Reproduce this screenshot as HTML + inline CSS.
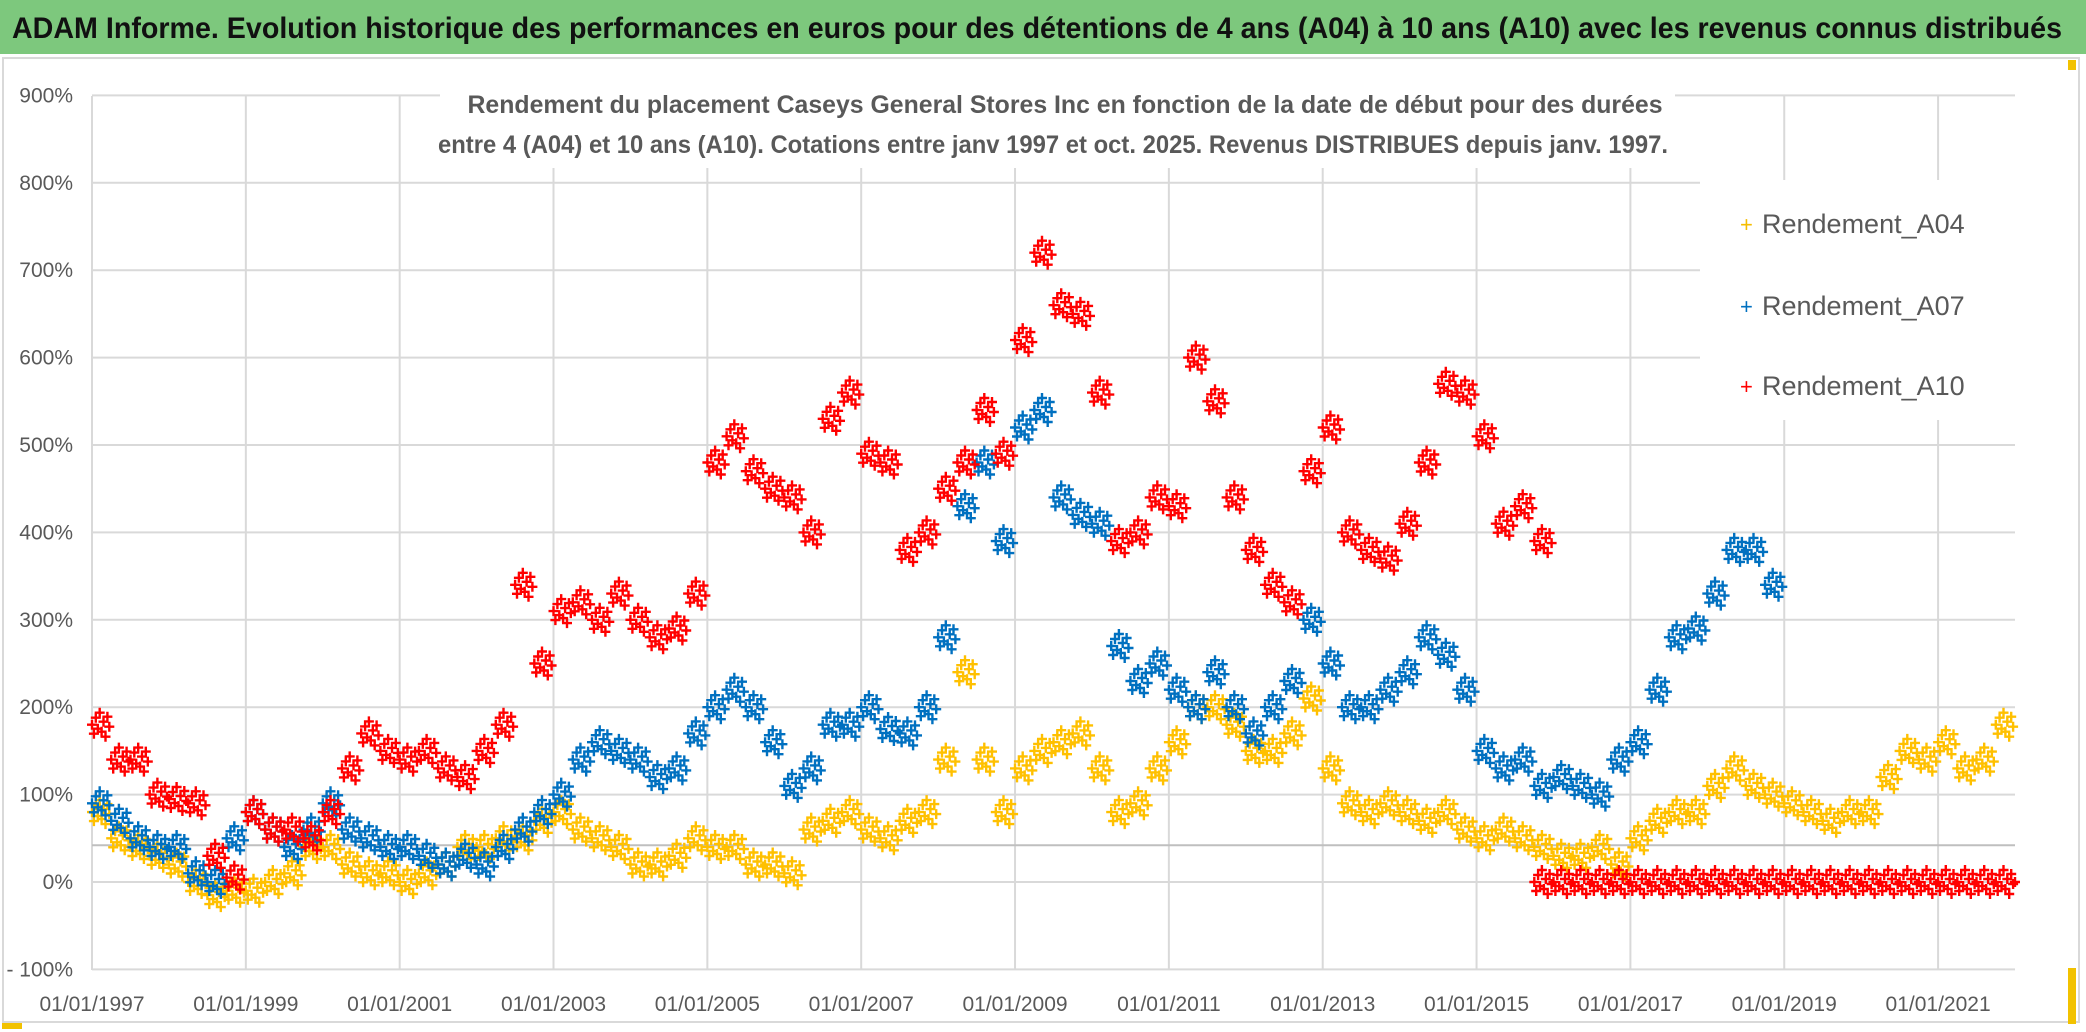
<!DOCTYPE html>
<html><head><meta charset="utf-8">
<style>
html,body{margin:0;padding:0;background:#fff;}
svg{display:block;}
text{font-family:"Liberation Sans Narrow","Liberation Sans",sans-serif;}
</style></head>
<body>
<svg id="chart" width="2086" height="1032" viewBox="0 0 2086 1032" xmlns="http://www.w3.org/2000/svg">
  <rect x="0" y="0" width="2086" height="1032" fill="#ffffff"/>
  <rect x="0" y="0" width="2086" height="54" fill="#7dc87d"/>
  <text x="12" y="38" font-size="30" font-weight="bold" fill="#111" textLength="2050" lengthAdjust="spacingAndGlyphs">ADAM Informe. Evolution historique des performances en euros pour des détentions de 4 ans (A04) à 10 ans (A10) avec les revenus connus distribués</text>
  <rect x="3" y="58" width="2076" height="964" fill="none" stroke="#d9d9d9" stroke-width="2"/>
  <rect x="2068" y="60" width="8" height="10" fill="#f2c200"/>
  <rect x="2068" y="968" width="8" height="56" fill="#f2c200"/>
  <rect x="2" y="1023" width="20" height="6" fill="#f2c200"/>
  <g id="grid"></g>
  <g id="yticks"></g>
  <g id="xticks"></g>
  <g id="series"></g>
  <rect x="1700" y="180" width="340" height="240" fill="#fff"/>
  <g>
    <g><text x="1740" y="232" font-size="22" fill="#f5bd00">+</text><text x="1762" y="233" font-size="27" fill="#595959">Rendement_A04</text></g>
    <g><text x="1740" y="314" font-size="22" fill="#0070c0">+</text><text x="1762" y="315" font-size="27" fill="#595959">Rendement_A07</text></g>
    <g><text x="1740" y="394" font-size="22" fill="#ff0000">+</text><text x="1762" y="395" font-size="27" fill="#595959">Rendement_A10</text></g>
  </g>
  <rect x="440" y="78" width="1235" height="90" fill="#fff"/>
  <text x="1065" y="113" font-size="25" font-weight="bold" fill="#595959" text-anchor="middle" textLength="1195" lengthAdjust="spacingAndGlyphs">Rendement du placement Caseys General Stores Inc en fonction de la date de début pour des durées</text>
  <text x="1053" y="153" font-size="25" font-weight="bold" fill="#595959" text-anchor="middle" textLength="1230" lengthAdjust="spacingAndGlyphs">entre 4 (A04) et 10 ans (A10). Cotations entre janv 1997 et oct. 2025. Revenus DISTRIBUES depuis janv. 1997.</text>
</svg>
<script>
const yTickValues = [-100,0,100,200,300,400,500,600,700,800,900];
const xTickYears = [1997,1999,2001,2003,2005,2007,2009,2011,2013,2015,2017,2019,2021];
const refLineValue = 42;
const a04Start = 1997.0;
const a04Values = [80,50,40,30,20,0,-15,-10,-10,0,10,40,40,20,10,10,0,10,20,40,40,50,50,70,80,60,50,40,20,20,30,50,40,40,20,20,10,60,70,80,60,50,70,80,140,240,140,80,130,150,160,170,130,80,90,130,160,200,200,180,150,150,170,210,130,90,80,90,80,70,80,60,50,60,50,40,30,30,40,20,50,70,80,80,110,130,110,100,90,80,70,80,80,120,150,140,160,130,140,180];
const a07Start = 1997.0;
const a07Values = [90,70,50,40,40,10,0,50,80,60,40,60,90,60,50,40,40,30,20,30,20,40,60,80,100,140,160,150,140,120,130,170,200,220,200,160,110,130,180,180,200,175,170,200,280,430,480,390,520,540,440,420,410,270,230,250,220,200,240,200,170,200,230,300,250,200,200,220,240,280,260,220,150,130,140,110,120,110,100,140,160,220,280,290,330,380,380,340];
const a10Start = 1997.0;
const a10Values = [180,140,140,100,95,90,30,5,80,60,60,50,80,130,170,150,140,150,130,120,150,180,340,250,310,320,300,330,300,280,290,330,480,510,470,450,440,400,530,560,490,480,380,400,450,480,540,490,620,720,660,650,560,390,400,440,430,600,550,440,380,340,320,470,520,400,380,370,410,480,570,560,510,410,430,390];
const a10ZeroStart = 2015.75;
const a10ZeroValues = [0,0,0,0,0,0,0,0,0,0,0,0,0,0,0,0,0,0,0,0,0,0,0,0,0,0];

const NS='http://www.w3.org/2000/svg';
const L=92,R=2015,T=96,B=970;
function xs(yr){return 92+(yr-1997)*76.92;}
function ys(v){return 882-v*0.874;}
const grid=document.getElementById('grid');
for(const v of yTickValues){
  const ln=document.createElementNS(NS,'line');
  ln.setAttribute('x1',L);ln.setAttribute('x2',R);ln.setAttribute('y1',ys(v));ln.setAttribute('y2',ys(v));
  ln.setAttribute('stroke','#d9d9d9');ln.setAttribute('stroke-width','2');
  
  
  grid.appendChild(ln);
  const t=document.createElementNS(NS,'text');
  t.setAttribute('x',73);t.setAttribute('y',ys(v)+7);t.setAttribute('text-anchor','end');
  t.setAttribute('font-size','21');t.setAttribute('fill','#595959');
  t.textContent=(v<0?'- '+(-v):v)+'%';
  
  
  document.getElementById('yticks').appendChild(t);
}
for(const yr of xTickYears){
  const ln=document.createElementNS(NS,'line');
  ln.setAttribute('x1',xs(yr));ln.setAttribute('x2',xs(yr));ln.setAttribute('y1',T);ln.setAttribute('y2',B);
  ln.setAttribute('stroke','#d9d9d9');ln.setAttribute('stroke-width','2');
  
  
  grid.appendChild(ln);
  const t=document.createElementNS(NS,'text');
  t.setAttribute('x',xs(yr));t.setAttribute('y',1011);t.setAttribute('text-anchor','middle');
  t.setAttribute('font-size','21');t.setAttribute('fill','#595959');
  t.textContent='01/01/'+yr;
  
  
  document.getElementById('xticks').appendChild(t);
}
const rl=document.createElementNS(NS,'line');
rl.setAttribute('x1',L);rl.setAttribute('x2',R);rl.setAttribute('y1',ys(refLineValue));rl.setAttribute('y2',ys(refLineValue));
rl.setAttribute('stroke','#bfbfbf');rl.setAttribute('stroke-width','2');


grid.appendChild(rl);

const offX=[0,0.025,0.05,0.075,0.1,0.125,0.15,0.175,0.2,0.225];
const offY=[0,9,-7,4,-12,7,-3,12,-8,2];
function drawSeries(start,vals,color,name){
  let d='';
  vals.forEach((v,i)=>{
    const yr=start+i*0.25;
    offX.forEach((ox,k)=>{
      const x=xs(yr+ox), y=ys(v)+offY[k];
      if(x<L||x>R)return;
      d+='M'+(x-5).toFixed(1)+' '+y.toFixed(1)+'h10M'+x.toFixed(1)+' '+(y-5).toFixed(1)+'v10';
    });
  });
  const p=document.createElementNS(NS,'path');
  p.setAttribute('d',d);p.setAttribute('stroke',color);p.setAttribute('stroke-width','2.4');p.setAttribute('fill','none');
  
  
  document.getElementById('series').appendChild(p);
}
drawSeries(a04Start,a04Values,'#ffc000','series-a04');
drawSeries(a07Start,a07Values,'#0070c0','series-a07');
drawSeries(a10Start,a10Values,'#ff0000','series-a10');
drawSeries(a10ZeroStart,a10ZeroValues,'#ff0000','series-a10-zero');
</script>
</body></html>
